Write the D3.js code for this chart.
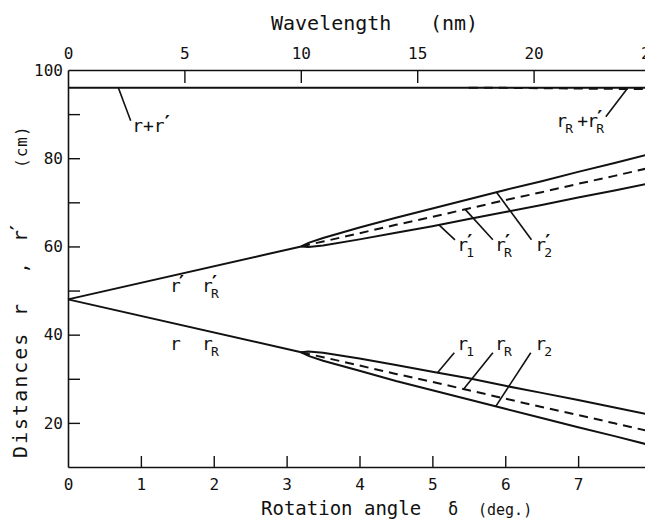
<!DOCTYPE html>
<html>
<head>
<meta charset="utf-8">
<script src="https://cdn.jsdelivr.net/npm/d3@7/dist/d3.min.js"></script>
<style>
  html, body { margin: 0; padding: 0; background: #fff; }
  svg { display: block; }
  text { font-family: "DejaVu Sans Mono", "DejaVu Sans", monospace; fill: #111; }
  .prime { font-family: "DejaVu Sans", sans-serif; font-weight: bold; }
</style>
</head>
<body>
<div id="chart"></div>
<script>
// Rotation angle (deg) for the straight part before splitting
const baseDelta = [0, 3.2];
const rPrimeBase = [48, 60];
const rBase = [48, 36];

// Rotation angle (deg) for the split region
const delta = [3.2, 3.3, 3.5, 4.0, 4.5, 5.0, 5.5, 6.0, 6.5, 7.0, 7.5, 8.0];
// Upper branch r' (cm)
const rPrime2 = [60.0, 60.8, 61.9, 64.3, 66.5, 68.6, 70.7, 72.8, 74.8, 76.9, 78.9, 81.0];
const rPrimeR = [60.0, 60.4, 61.1, 63.0, 64.9, 66.7, 68.6, 70.5, 72.3, 74.2, 76.0, 77.9];
const rPrime1 = [60.0, 59.9, 60.2, 61.6, 63.1, 64.6, 66.2, 67.8, 69.4, 71.1, 72.7, 74.4];
// Lower branch r (cm)
const r1 = [36.0, 36.2, 35.9, 34.6, 33.1, 31.6, 30.1, 28.4, 26.8, 25.2, 23.5, 21.8];
const rR = [36.0, 35.6, 34.9, 33.0, 31.1, 29.3, 27.4, 25.5, 23.6, 21.8, 19.9, 18.0];
const r2 = [36.0, 35.2, 34.1, 31.8, 29.5, 27.4, 25.3, 23.2, 21.1, 19.0, 17.0, 14.9];
// Sums (cm)
const sumDelta = [0, 8];
const sumRR = [96, 96];
const sumRefDelta = [5.5, 6.0, 6.5, 7.0, 7.5, 8.0];
const sumRRref = [96.0, 95.95, 95.88, 95.8, 95.72, 95.65];

// Axis ticks
const xTicks = [0, 1, 2, 3, 4, 5, 6, 7];
const yTicks = [20, 30, 40, 50, 60, 70, 80, 90, 100];
const yLabels = [20, 40, 60, 80, 100];
const lambdaTicks = [0, 5, 10, 15, 20, 25];

const W = 645, H = 520;
const svg = d3.select("#chart").append("svg").attr("width", W).attr("height", H);

const x = d3.scaleLinear().domain([0, 8]).range([68, 651]);
const xl = d3.scaleLinear().domain([0, 25]).range([68, 650]);
const y = d3.scaleLinear().domain([10, 100]).range([467, 70]);

const ink = "#111";

// Axes (ticks point inward)
const gB = svg.append("g").attr("transform", `translate(0,${y(10)})`)
  .call(d3.axisBottom(x).tickValues(xTicks).tickSize(-11).tickSizeOuter(0).tickPadding(20).tickFormat(d3.format("d")));
const gL = svg.append("g").attr("transform", `translate(${x(0)},0)`)
  .call(d3.axisLeft(y).tickValues(yTicks).tickSize(-12).tickSizeOuter(0).tickPadding(5)
    .tickFormat(d => yLabels.includes(d) ? d : ""));
const gT = svg.append("g").attr("transform", `translate(0,${y(100)})`)
  .call(d3.axisTop(xl).tickValues(lambdaTicks).tickSize(-13).tickSizeOuter(0).tickPadding(11).tickFormat(d3.format("d")));

[gB, gL, gT].forEach(g => {
  g.selectAll("path.domain").attr("stroke", ink).attr("stroke-width", 1.6);
  g.selectAll(".tick line").attr("stroke", ink).attr("stroke-width", 1.4);
  g.selectAll(".tick text").attr("font-size", 16).attr("fill", ink)
    .attr("font-family", "DejaVu Sans Mono, DejaVu Sans, monospace");
});
gB.selectAll(".tick text").attr("dy", "0.2em");
gT.selectAll(".tick text").attr("dy", "0em");
gB.selectAll(".tick").filter(d => d === 0).select("line").remove();
gL.selectAll(".tick").filter(d => d === 100).select("line").remove();
gT.selectAll(".tick").filter(d => d === 0).select("line").remove();

// Curves
const line = d3.line().x(d => x(d[0])).y(d => y(d[1]));
const zip = (xs, ys) => xs.map((v, i) => [v, ys[i]]);
const curves = svg.append("g").attr("fill", "none").attr("stroke", ink).attr("stroke-width", 2);

curves.append("path").attr("d", line(zip(sumDelta, sumRR)));
curves.append("path").attr("d", line(zip(sumRefDelta, sumRRref))).attr("stroke-dasharray", "9,6");
curves.append("path").attr("d", line(zip(baseDelta, rPrimeBase)));
curves.append("path").attr("d", line(zip(baseDelta, rBase)));
curves.append("path").attr("d", line(zip(delta, rPrime2)));
curves.append("path").attr("d", line(zip(delta, rPrime1)));
curves.append("path").attr("d", line(zip(delta, rPrimeR))).attr("stroke-dasharray", "9,6");
curves.append("path").attr("d", line(zip(delta, r1)));
curves.append("path").attr("d", line(zip(delta, r2)));
curves.append("path").attr("d", line(zip(delta, rR))).attr("stroke-dasharray", "9,6");

// Value of a series at a given rotation angle
const at = (xs, ys, d) => d3.scaleLinear().domain(xs).range(ys)(d);

// Symbol "r" with optional subscript and prime, anchored at its baseline
function symbol(g, px, py, sub, prime) {
  const t = g.append("text").attr("x", px).attr("y", py).attr("font-size", 18);
  t.append("tspan").text("r");
  if (sub) t.append("tspan").attr("x", px + 9).attr("y", py + 6).attr("font-size", 13).text(sub);
  if (prime) t.append("tspan").attr("class", "prime").attr("x", px + (sub ? 10 : 9)).attr("y", py - 3)
    .attr("font-size", 19).text("′");
  return t;
}

const notes = svg.append("g");
const leader = (d0, v0, d1, v1) => notes.append("line")
  .attr("x1", x(d0)).attr("y1", y(v0)).attr("x2", x(d1)).attr("y2", y(v1))
  .attr("stroke", ink).attr("stroke-width", 1.6);

// Upper branch leaders and labels
leader(5.09, at(delta, rPrime1, 5.09), 5.31, 61.5); symbol(notes, x(5.34), y(59.0), "1", true);
leader(5.45, at(delta, rPrimeR, 5.45), 5.83, 61.5); symbol(notes, x(5.86), y(59.0), "R", true);
leader(5.88, at(delta, rPrime2, 5.88), 6.36, 61.5); symbol(notes, x(6.41), y(59.0), "2", true);

// Lower branch leaders and labels
leader(5.07, at(delta, r1, 5.07), 5.30, 35.9); symbol(notes, x(5.34), y(36.6), "1", false);
leader(5.43, at(delta, rR, 5.43), 5.83, 35.9); symbol(notes, x(5.86), y(36.6), "R", false);
leader(5.87, at(delta, r2, 5.87), 6.35, 35.9); symbol(notes, x(6.41), y(36.6), "2", false);

// Sum labels
leader(0.69, 96, 0.86, 88.5);
const sumL = notes.append("text").attr("x", x(0.88)).attr("y", y(86.0)).attr("font-size", 18);
sumL.append("tspan").text("r+r");
sumL.append("tspan").attr("class", "prime").attr("dy", -3).attr("font-size", 19).text("′");

leader(7.67, at(sumRefDelta, sumRRref, 7.67), 7.38, 89.4);
const px0 = x(6.70), py0 = y(87.0);
const sumR = notes.append("text").attr("x", px0).attr("y", py0).attr("font-size", 18);
sumR.append("tspan").text("r");
sumR.append("tspan").attr("x", px0 + 9).attr("y", py0 + 6).attr("font-size", 13).text("R");
sumR.append("tspan").attr("x", px0 + 21).attr("y", py0).text("+");
sumR.append("tspan").attr("x", px0 + 31).attr("y", py0).text("r");
sumR.append("tspan").attr("x", px0 + 40).attr("y", py0 + 6).attr("font-size", 13).text("R");
sumR.append("tspan").attr("class", "prime").attr("x", px0 + 41).attr("y", py0 - 3).attr("font-size", 19).text("′");

// Plain symbols on the straight segments
symbol(notes, x(1.40), y(49.6), null, true);
symbol(notes, x(1.84), y(49.6), "R", true);
symbol(notes, x(1.40), y(36.5), null, false);
symbol(notes, x(1.84), y(36.5), "R", false);

// Axis titles
const tTop = svg.append("text").attr("y", 30).attr("font-size", 20);
tTop.append("tspan").attr("x", 271).text("Wavelength");
tTop.append("tspan").attr("x", 430).text("(nm)");

const tBot = svg.append("text").attr("y", 515).attr("font-size", 19);
tBot.append("tspan").attr("x", 261).text("Rotation angle");
tBot.append("tspan").attr("x", 448).attr("font-size", 17).text("δ");
tBot.append("tspan").attr("x", 478).attr("font-size", 15).text("(deg.)");

const tLeft = svg.append("text").attr("transform", "rotate(-90)").attr("y", 27).attr("font-size", 20);
tLeft.append("tspan").attr("x", -458).attr("letter-spacing", 2).text("Distances");
tLeft.append("tspan").attr("x", -316).text("r");
tLeft.append("tspan").attr("x", -274).text(",");
tLeft.append("tspan").attr("x", -242).text("r");
tLeft.append("tspan").attr("class", "prime").attr("x", -230).attr("dy", -3).attr("font-size", 19).text("′");
tLeft.append("tspan").attr("x", -168).attr("dy", 3).attr("font-size", 16).attr("letter-spacing", 1).text("(cm)");
</script>
</body>
</html>
